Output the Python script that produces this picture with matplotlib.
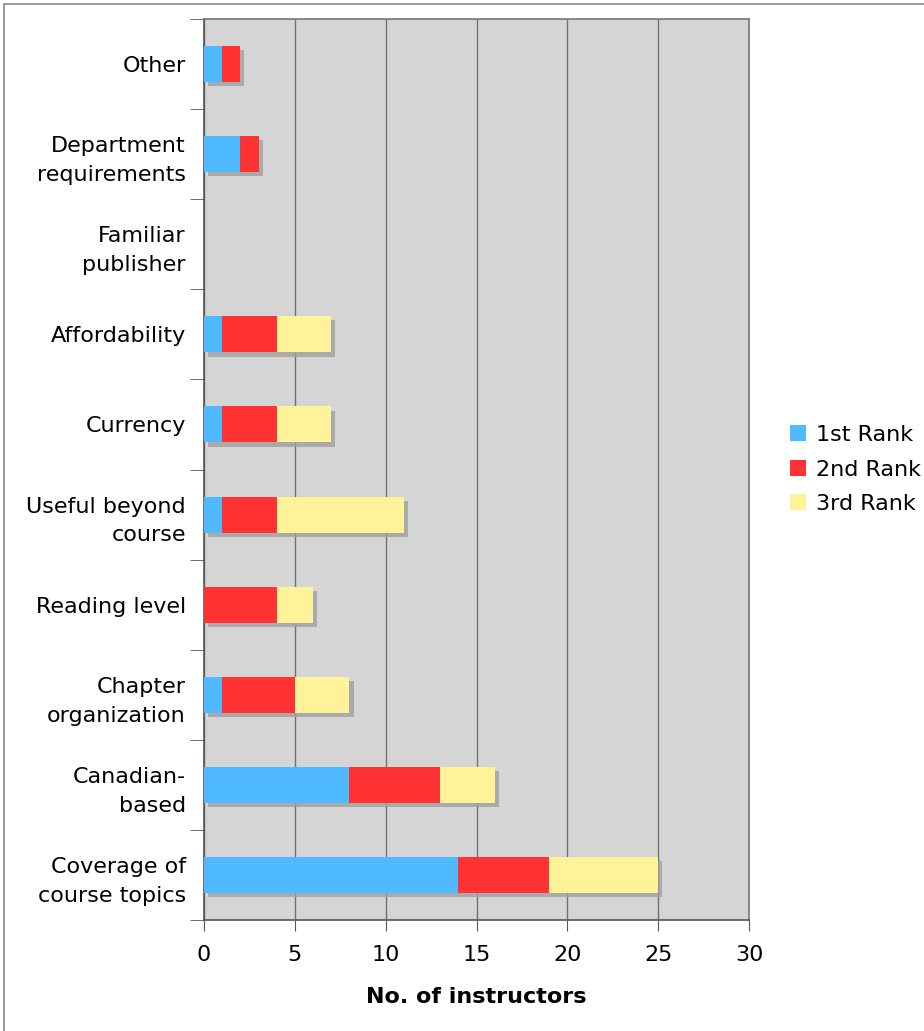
import matplotlib
matplotlib.use('Agg')
import matplotlib.pyplot as plt
import matplotlib.patheffects as pe
import numpy as np

# factors, listed bottom to top
categories = ['Coverage of\ncourse topics', 'Canadian-\nbased', 'Chapter\norganization',
              'Reading level', 'Useful beyond\ncourse', 'Currency', 'Affordability',
              'Familiar\npublisher', 'Department\nrequirements', 'Other']
rank1 = [14, 8, 1, 0, 1, 1, 1, 0, 2, 1]
rank2 = [5, 5, 4, 4, 3, 3, 3, 0, 1, 1]
rank3 = [6, 3, 3, 2, 7, 3, 3, 0, 0, 0]
series_names = ['1st Rank', '2nd Rank', '3rd Rank']
colors = ['#4fbaff', '#ff3333', '#fff399']

fig = plt.figure(figsize=(9.24, 10.31), dpi=100)
ax = fig.add_axes([204 / 924, 111 / 1031, 545 / 924, 901 / 1031])
ax.set_facecolor('#d5d5d5')

# thin frame around the whole figure
fig.patches.append(plt.Rectangle((4 / 924, -0.01), 1.0, 1.0 - 4 / 1031 + 0.01,
                                 transform=fig.transFigure, fill=False,
                                 edgecolor='#888888', linewidth=1.2))

y = np.arange(len(categories))
shadow = [pe.SimplePatchShadow(offset=(3, -3), shadow_rgbFace='#a0a0a0', alpha=0.8), pe.Normal()]
left = np.zeros(len(categories))
for vals, name, c in zip([rank1, rank2, rank3], series_names, colors):
    bars = ax.barh(y, vals, left=left, height=0.4, color=c, label=name, zorder=3)
    for b in bars:
        if b.get_width() > 0:
            b.set_path_effects(shadow)
    left += np.array(vals)

ax.set_xlim(0, 30)
ax.set_ylim(-0.5, len(categories) - 0.5)
ax.set_xticks(range(0, 31, 5))
ax.xaxis.grid(True, color='#707070', linewidth=1.0, zorder=1)
ax.set_axisbelow(True)

ax.set_yticks(y)
ax.set_yticklabels(categories, fontsize=16, linespacing=1.55)
ax.set_yticks(np.arange(-0.5, len(categories)), minor=True)
ax.tick_params(axis='y', which='major', length=0, pad=13)
ax.tick_params(axis='y', which='minor', length=10, color='#555555')
ax.tick_params(axis='x', labelsize=16, length=8, color='#555555', pad=10)

for s in ax.spines.values():
    s.set_color('#777777')
    s.set_linewidth(1.2)
ax.spines['left'].set_color('#555555')
ax.spines['bottom'].set_color('#555555')

ax.set_xlabel('No. of instructors', fontsize=16, fontweight='bold', labelpad=16)

leg = ax.legend(loc='center left', bbox_to_anchor=(1.038, 0.5), frameon=False,
                fontsize=16, handlelength=0.75, handleheight=0.75, handletextpad=0.45,
                labelspacing=0.65)
for h in leg.legend_handles:
    h.set_path_effects([])

fig.savefig('out.png', dpi=100)
